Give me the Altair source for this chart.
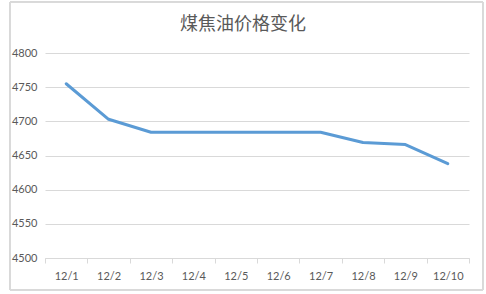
import altair as alt
import pandas as pd

# Daily coal tar price, first ten days of December
dates = ["12/1", "12/2", "12/3", "12/4", "12/5", "12/6", "12/7", "12/8", "12/9", "12/10"]
prices = [4755, 4703, 4684, 4684, 4684, 4684, 4684, 4669, 4666, 4638]
y_ticks = [4500, 4550, 4600, 4650, 4700, 4750, 4800]
title_text = "煤焦油价格变化"

df = pd.DataFrame({"date": dates, "price": prices})

grid = "#d9d9d9"
text_color = "#595959"
label_font = "Lato"

x_enc = alt.X(
    "date:N",
    sort=dates,
    bandPosition=0.5,
    scale=alt.Scale(type="band", paddingInner=0, paddingOuter=0),
    axis=alt.Axis(
        title=None,
        labelAngle=0,
        labelFont=label_font,
        labelFontSize=11,
        labelColor=text_color,
        labelPadding=7,
        domainColor=grid,
        tickColor=grid,
        tickSize=5,
        tickBand="extent",
        grid=False,
    ),
)

y_enc = alt.Y(
    "price:Q",
    scale=alt.Scale(domain=[4500, 4800], nice=False, zero=False),
    axis=alt.Axis(
        title=None,
        values=y_ticks,
        format="d",
        labelFont=label_font,
        labelFontSize=11,
        labelColor=text_color,
        labelPadding=8,
        domain=False,
        ticks=False,
        gridColor=grid,
        gridWidth=1,
    ),
)

line = alt.Chart(df).mark_line(color="#5b9bd5", strokeWidth=3, strokeCap="round", strokeJoin="round").encode(
    x=x_enc, y=y_enc
)

# Outer border of the chart box
frame = alt.Chart(df).mark_rect(fill=None, stroke=grid, strokeWidth=1).encode(
    x=alt.value(-35), x2=alt.value(438), y=alt.value(-51), y2=alt.value(237)
)

# Chart heading, centred on the whole chart box
heading = alt.Chart(pd.DataFrame({"t": [title_text]})).mark_text(
    font="Noto Sans CJK SC",
    fontSize=18,
    color=text_color,
    align="center",
    baseline="alphabetic",
).encode(text="t:N", x=alt.value(198), y=alt.value(-23))

chart = (
    alt.layer(frame, line, heading)
    .properties(
        width=424,
        height=205,
        padding={"left": 45, "top": 53, "right": 17, "bottom": 36},
        autosize=alt.AutoSizeParams(type="none"),
        background="white",
    )
    .configure_view(stroke=None)
)

chart.save("out.html", embed_options={"renderer": "svg", "actions": False})
